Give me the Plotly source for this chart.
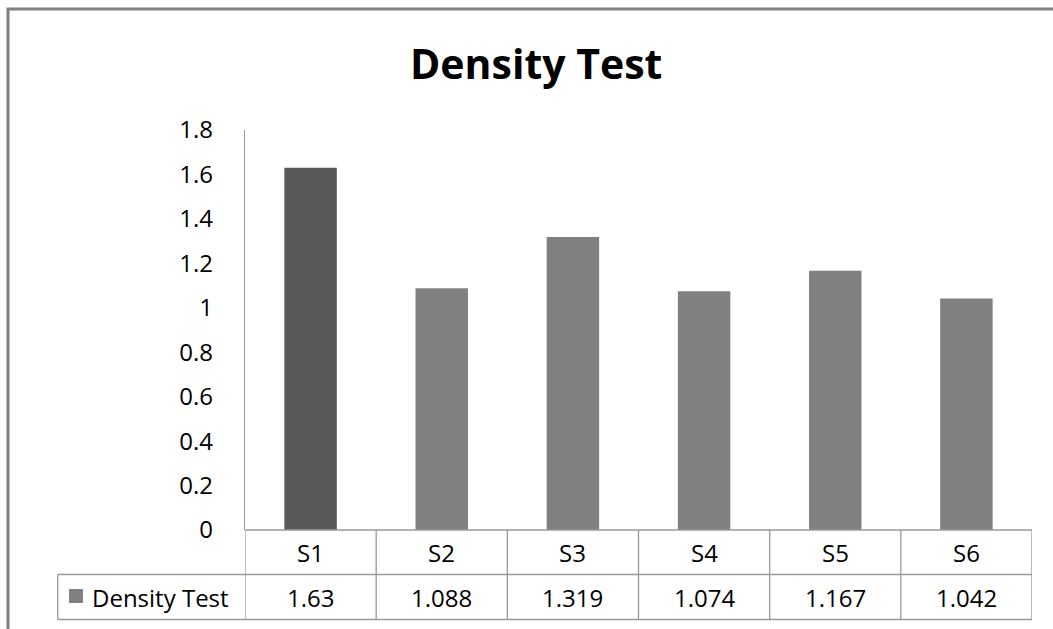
import plotly.graph_objects as go

# Chart data
title_text = "Density Test"
series_name = "Density Test"
categories = ["S1", "S2", "S3", "S4", "S5", "S6"]
density = [1.63, 1.088, 1.319, 1.074, 1.167, 1.042]
value_labels = ["1.63", "1.088", "1.319", "1.074", "1.167", "1.042"]
y_tick_vals = [0, 0.2, 0.4, 0.6, 0.8, 1.0, 1.2, 1.4, 1.6, 1.8]
y_tick_text = ["0", "0.2", "0.4", "0.6", "0.8", "1", "1.2", "1.4", "1.6", "1.8"]

# Styling
W, H = 1053, 629
ML, MR, MT, MB = 245, 21, 130, 99
PW, PH = W - ML - MR, H - MT - MB
FONT = "Open Sans"
TEXT_SIZE = 24
SERIES_COLOR = "#808080"
HIGHLIGHT_COLOR = "#595959"
LINE_COLOR = "#9a9a9a"
bar_colors = [HIGHLIGHT_COLOR if i == 0 else SERIES_COLOR for i in range(len(categories))]


def px_x(px):
    """Pixel column -> paper x."""
    return (px - ML) / PW


def px_y(py):
    """Pixel row -> paper y."""
    return (H - MB - py) / PH


fig = go.Figure(
    go.Bar(
        x=categories,
        y=density,
        name=series_name,
        width=0.4,
        marker=dict(color=bar_colors, line=dict(width=0)),
        showlegend=False,
    )
)

# Data table geometry (pixels)
row1_bottom = 574.5
row2_bottom = 619.5
legend_left = 57.7
n = len(categories)

shapes = []
# vertical grid lines of the table, at category boundaries
for k in range(n + 1):
    shapes.append(dict(type="line", xref="x", yref="paper",
                       x0=k - 0.5, x1=k - 0.5, y0=0, y1=px_y(row2_bottom),
                       line=dict(color=LINE_COLOR, width=1.3)))
# top edge of the table
shapes.append(dict(type="line", xref="x", yref="paper", x0=-0.5, x1=n - 0.5,
                   y0=0, y1=0, line=dict(color=LINE_COLOR, width=1.3)))
# row separator and bottom edge (including the legend cell)
for yy in (row1_bottom, row2_bottom):
    shapes.append(dict(type="line", xref="paper", yref="paper",
                       x0=px_x(legend_left), x1=1, y0=px_y(yy), y1=px_y(yy),
                       line=dict(color=LINE_COLOR, width=1.3)))
# left edge of the legend cell
shapes.append(dict(type="line", xref="paper", yref="paper",
                   x0=px_x(legend_left), x1=px_x(legend_left),
                   y0=px_y(row1_bottom), y1=px_y(row2_bottom),
                   line=dict(color=LINE_COLOR, width=1.3)))
# legend key square
shapes.append(dict(type="rect", xref="paper", yref="paper",
                   x0=px_x(69), x1=px_x(83), y0=px_y(603), y1=px_y(589),
                   fillcolor=SERIES_COLOR, line=dict(width=0)))
# chart frame
shapes.append(dict(type="path", xref="paper", yref="paper",
                   path=f"M {px_x(8)} {px_y(660)} L {px_x(8)} {px_y(9)} L {px_x(1100)} {px_y(9)}",
                   line=dict(color="#808080", width=3)))

annotations = []
row1_mid = (530 + row1_bottom) / 2
row2_mid = (row1_bottom + row2_bottom) / 2
for cat, lab in zip(categories, value_labels):
    annotations.append(dict(x=cat, xref="x", y=px_y(row1_mid), yref="paper",
                            text=cat, showarrow=False, xanchor="center", yanchor="middle",
                            font=dict(family=FONT, size=TEXT_SIZE, color="#000000")))
    annotations.append(dict(x=cat, xref="x", y=px_y(row2_mid), yref="paper",
                            text=lab, showarrow=False, xanchor="center", yanchor="middle",
                            font=dict(family=FONT, size=TEXT_SIZE, color="#000000")))
annotations.append(dict(x=px_x(90), xref="paper", y=px_y(row2_mid), yref="paper",
                        text=series_name, showarrow=False, xanchor="left", yanchor="middle",
                        font=dict(family=FONT, size=TEXT_SIZE, color="#000000")))
annotations.append(dict(x=px_x(535.5), xref="paper", y=px_y(63), yref="paper",
                        text=f"<b>{title_text}</b>", showarrow=False,
                        xanchor="center", yanchor="middle",
                        font=dict(family=FONT, size=41, color="#000000")))

fig.update_layout(
    width=W, height=H,
    margin=dict(l=ML, r=MR, t=MT, b=MB, pad=0),
    paper_bgcolor="#ffffff", plot_bgcolor="#ffffff",
    font=dict(family=FONT, size=TEXT_SIZE, color="#000000"),
    bargap=0.6,
    shapes=shapes,
    annotations=annotations,
    xaxis=dict(showticklabels=False, showgrid=False, zeroline=False,
               showline=False, ticks="", range=[-0.5, n - 0.5], fixedrange=True),
    yaxis=dict(range=[0, 1.8], tickvals=y_tick_vals, ticktext=y_tick_text,
               showgrid=False, zeroline=False, showline=True,
               linecolor=LINE_COLOR, linewidth=1.3, ticks="",
               ticklabelstandoff=26,
               tickfont=dict(family=FONT, size=TEXT_SIZE, color="#000000"), fixedrange=True),
)

fig.write_html("out.html")
